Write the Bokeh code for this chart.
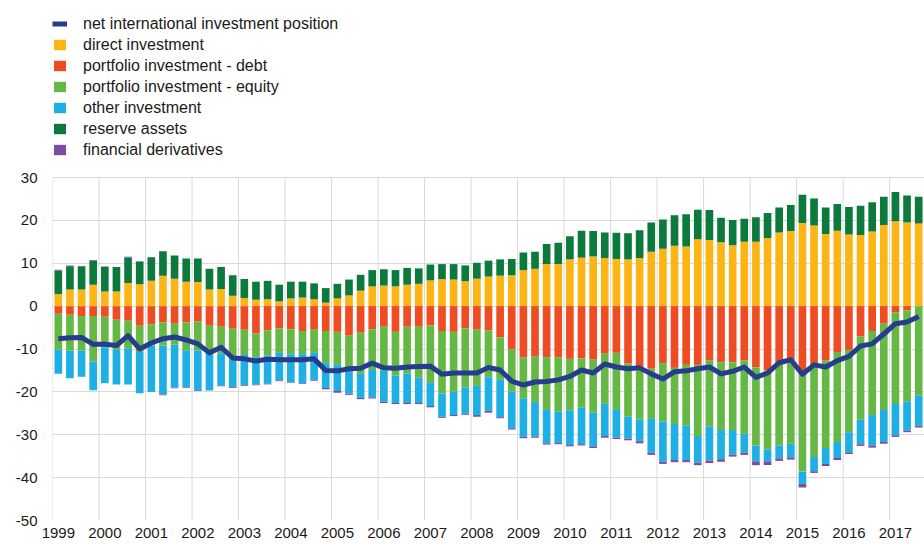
from bokeh.plotting import figure
from bokeh.models import ColumnDataSource, FixedTicker, Legend, LegendItem
from bokeh.embed import file_html
from bokeh.resources import INLINE

years = list(range(1999, 2018))
quarters = [f"{y}Q{q}" for y in years for q in range(1, 5)][:75]

direct_investment = [2.8, 3.9, 3.9, 5.0, 3.4, 3.4, 5.4, 5.1, 5.9, 7.1, 6.4, 5.7, 5.6, 3.9, 4.0, 2.4,
                     1.9, 1.5, 1.6, 1.1, 1.8, 2.0, 1.6, 0.8, 1.8, 2.5, 3.6, 4.6, 4.8, 4.6, 5.0, 5.2,
                     6.0, 6.3, 6.2, 5.8, 6.4, 6.9, 7.1, 7.2, 8.4, 8.7, 9.8, 9.8, 10.9, 11.3, 11.6, 11.2,
                     11.0, 10.9, 11.2, 12.7, 13.4, 14.1, 13.9, 15.6, 15.4, 14.9, 14.2, 15.0, 15.0, 15.9,
                     17.2, 17.5, 19.4, 18.8, 16.8, 17.6, 16.7, 16.6, 17.4, 18.9, 19.8, 19.5, 19.2]
portfolio_debt = [-1.8, -2.0, -2.3, -2.3, -2.5, -3.2, -3.4, -4.6, -4.2, -3.8, -4.1, -3.8, -3.6, -4.6, -4.8, -5.3,
                  -5.5, -6.4, -5.7, -5.2, -5.4, -5.8, -5.5, -5.8, -6.0, -6.9, -6.2, -5.4, -4.8, -6.0, -4.8, -4.8,
                  -4.5, -5.8, -6.0, -5.2, -5.5, -5.7, -7.3, -10.1, -11.9, -11.8, -11.9, -11.9, -12.3, -12.2, -12.5, -11.1,
                  -10.9, -13.4, -14.0, -14.6, -13.3, -14.4, -13.7, -13.7, -12.6, -13.1, -13.1, -12.7, -14.3, -15.0,
                  -13.4, -13.3, -16.2, -13.8, -12.7, -10.7, -10.2, -7.1, -5.8, -4.1, -1.5, -1.0, 0.2]
portfolio_equity = [-8.4, -8.4, -8.1, -10.6, -7.1, -7.0, -6.4, -6.1, -5.0, -5.4, -4.9, -6.5, -6.8, -6.1, -6.3, -7.0,
                    -5.9, -5.5, -5.8, -5.7, -5.8, -5.4, -5.4, -7.5, -7.7, -7.3, -9.6, -9.5, -10.3, -10.2, -10.9, -11.9,
                    -13.4, -14.6, -14.0, -13.8, -13.1, -10.9, -9.9, -9.8, -9.6, -10.6, -12.3, -12.7, -12.0, -11.5, -12.3, -11.7,
                    -13.3, -12.4, -12.4, -11.7, -13.6, -13.1, -14.2, -16.6, -15.5, -15.8, -15.8, -17.1, -18.2, -18.5,
                    -19.1, -18.8, -22.4, -21.4, -20.4, -21.0, -19.2, -19.4, -19.6, -20.1, -21.3, -21.2, -20.9]
other_investment = [-5.6, -6.4, -6.1, -6.7, -8.4, -8.1, -8.5, -9.6, -10.8, -11.4, -10.0, -8.7, -9.2, -8.9, -7.5, -6.6,
                    -7.0, -6.4, -6.6, -6.4, -6.5, -6.8, -6.3, -5.8, -6.1, -6.2, -5.6, -6.4, -7.2, -6.4, -6.9, -5.9,
                    -5.4, -5.4, -5.4, -6.1, -6.8, -7.8, -8.7, -8.6, -9.0, -8.0, -7.8, -7.3, -8.1, -8.5, -7.9, -7.5,
                    -6.5, -5.1, -5.1, -7.9, -9.4, -8.4, -8.0, -6.2, -7.9, -6.8, -5.7, -4.4, -3.7, -2.7,
                    -3.0, -3.3, -2.9, -3.3, -3.7, -3.7, -4.7, -5.7, -7.1, -7.5, -7.3, -6.8, -7.0]
reserve_assets = [5.5, 5.4, 5.4, 5.6, 5.7, 5.7, 5.9, 5.3, 5.5, 5.7, 5.4, 5.4, 5.5, 4.8, 5.1, 4.8,
                  4.4, 4.2, 4.3, 3.9, 3.9, 3.7, 3.7, 3.4, 3.4, 3.7, 3.7, 3.8, 3.8, 3.8, 3.9, 3.6,
                  3.7, 3.5, 3.6, 3.7, 3.7, 3.7, 3.8, 3.8, 4.1, 4.0, 4.7, 5.0, 5.4, 6.3, 5.9, 6.0,
                  6.1, 6.1, 6.5, 6.8, 6.8, 7.1, 7.5, 6.9, 7.0, 5.7, 5.9, 5.4, 5.7, 5.8,
                  5.8, 6.1, 6.6, 6.3, 6.2, 6.2, 6.4, 6.8, 6.8, 6.6, 6.8, 6.3, 6.1]
financial_derivatives = [0.2, 0.15, 0.05, 0.15, 0.15, 0.05, 0.2, 0.05, 0.05, -0.2, -0.15, -0.1, -0.2, -0.1, -0.1, -0.2,
                         -0.15, -0.15, -0.15, -0.2, -0.15, -0.15, -0.2, -0.3, -0.4, -0.3, -0.3, -0.25, -0.3, -0.25, -0.25, -0.25,
                         -0.3, -0.25, -0.25, -0.25, -0.4, -0.45, -0.25, -0.3, -0.3, -0.3, -0.3, -0.3, -0.3, -0.3, -0.4, -0.4,
                         -0.3, -0.4, -0.5, -0.5, -0.5, -0.5, -0.5, -0.6, -0.6, -0.6, -0.5, -0.5, -0.9, -0.85,
                         -0.6, -0.4, -0.8, -0.4, -0.5, -0.5, -0.4, -0.4, -0.5, -0.4, -0.4, -0.4, -0.4]
niip = [-7.6, -7.4, -7.3, -8.9, -8.9, -9.2, -6.9, -10.0, -8.6, -7.6, -7.2, -7.9, -8.8, -10.9, -9.6, -12.1,
        -12.3, -12.8, -12.4, -12.5, -12.5, -12.5, -12.3, -15.0, -15.1, -14.6, -14.5, -13.3, -14.4, -14.5, -14.2, -14.1,
        -14.0, -15.9, -15.6, -15.6, -15.6, -14.3, -14.9, -17.5, -18.4, -17.7, -17.6, -17.2, -16.4, -14.9, -15.6, -13.5,
        -14.2, -14.6, -14.4, -15.8, -17.0, -15.3, -15.1, -14.6, -14.2, -15.8, -15.2, -14.2, -16.6, -15.6,
        -13.2, -12.5, -15.9, -13.7, -14.2, -12.7, -11.7, -9.3, -8.8, -6.5, -4.1, -3.7, -2.4]

y_ticks = [-50, -40, -30, -20, -10, 0, 10, 20, 30]

NAVY = "#243D8D"
series = [
    ("direct investment", direct_investment, "#FDB415"),
    ("portfolio investment - debt", portfolio_debt, "#F04C23"),
    ("portfolio investment - equity", portfolio_equity, "#65B843"),
    ("other investment", other_investment, "#1EAFE4"),
    ("reserve assets", reserve_assets, "#0B7A3C"),
    ("financial derivatives", financial_derivatives, "#7B4D9F"),
]

n = len(quarters)
x = list(range(n))
FONT = "Liberation Sans"
GRID = "#D9D9D9"

# frame spans the full canvas height above the axis; the legend sits in the
# empty area above the 30 gridline
W, H = 924, 544
BOTTOM = 24
LEFT = 52
frame_h = H - BOTTOM
px_per_unit = 343 / (y_ticks[-1] - y_ticks[0])
y_end = y_ticks[0] + frame_h / px_per_unit

p = figure(width=W, height=H, x_range=(-0.5, n - 0.5), y_range=(y_ticks[0], y_end),
           output_backend="svg", toolbar_location=None,
           min_border_left=LEFT, min_border_right=0, min_border_top=0, min_border_bottom=BOTTOM)
p.outline_line_color = None
p.background_fill_color = "white"
p.border_fill_color = "white"

year_pos = [i for i in x if quarters[i].endswith("Q1")]
bounds = [i - 0.5 for i in year_pos]
p.segment(x0=bounds, x1=bounds, y0=[y_ticks[0]] * len(bounds), y1=[y_ticks[-1]] * len(bounds),
          line_color=GRID, line_width=1, level="underlay")
p.xgrid.visible = False

pos = [0.0] * n
neg = [0.0] * n
items = []
for name, vals, color in series:
    bottoms, tops = [], []
    for i, v in enumerate(vals):
        if v >= 0:
            b = pos[i]
            pos[i] = b + v
        else:
            b = neg[i]
            neg[i] = b + v
        bottoms.append(b)
        tops.append(b + v)
    src = ColumnDataSource(dict(x=x, bottom=bottoms, top=tops))
    r = p.vbar(x="x", bottom="bottom", top="top", width=0.66, source=src,
               fill_color=color, line_color=None)
    items.append(LegendItem(label=name, renderers=[r]))

ln = p.line(x, niip, line_color=NAVY, line_width=5, line_join="round")
items.insert(0, LegendItem(label="net international investment position", renderers=[ln]))

legend = Legend(items=items, location=(0, 360), orientation="vertical",
                glyph_width=15, glyph_height=13, label_standoff=16, label_height=21,
                spacing=0, padding=0, margin=0,
                border_line_color=None, background_fill_alpha=0,
                label_text_font=FONT, label_text_font_size="16px", label_text_color="#1a1a1a")
p.add_layout(legend)

p.xaxis.ticker = FixedTicker(ticks=year_pos)
p.xaxis.major_label_overrides = {i: quarters[i][:4] for i in year_pos}
p.yaxis.ticker = FixedTicker(ticks=y_ticks)
p.yaxis.major_label_overrides = {t: str(t) for t in y_ticks}
p.ygrid.ticker = FixedTicker(ticks=y_ticks)
p.ygrid.grid_line_color = GRID
p.ygrid.grid_line_width = 1

for ax in (p.xaxis, p.yaxis):
    ax.axis_line_color = None
    ax.major_tick_line_color = None
    ax.minor_tick_line_color = None
    ax.major_tick_out = 0
    ax.major_tick_in = 0
    ax.major_label_text_font = FONT
    ax.major_label_text_font_size = "15px"
    ax.major_label_text_color = "#1a1a1a"
p.xaxis.major_label_standoff = 7
p.yaxis.major_label_standoff = 15

open("out.html", "w").write(file_html(p, INLINE))
